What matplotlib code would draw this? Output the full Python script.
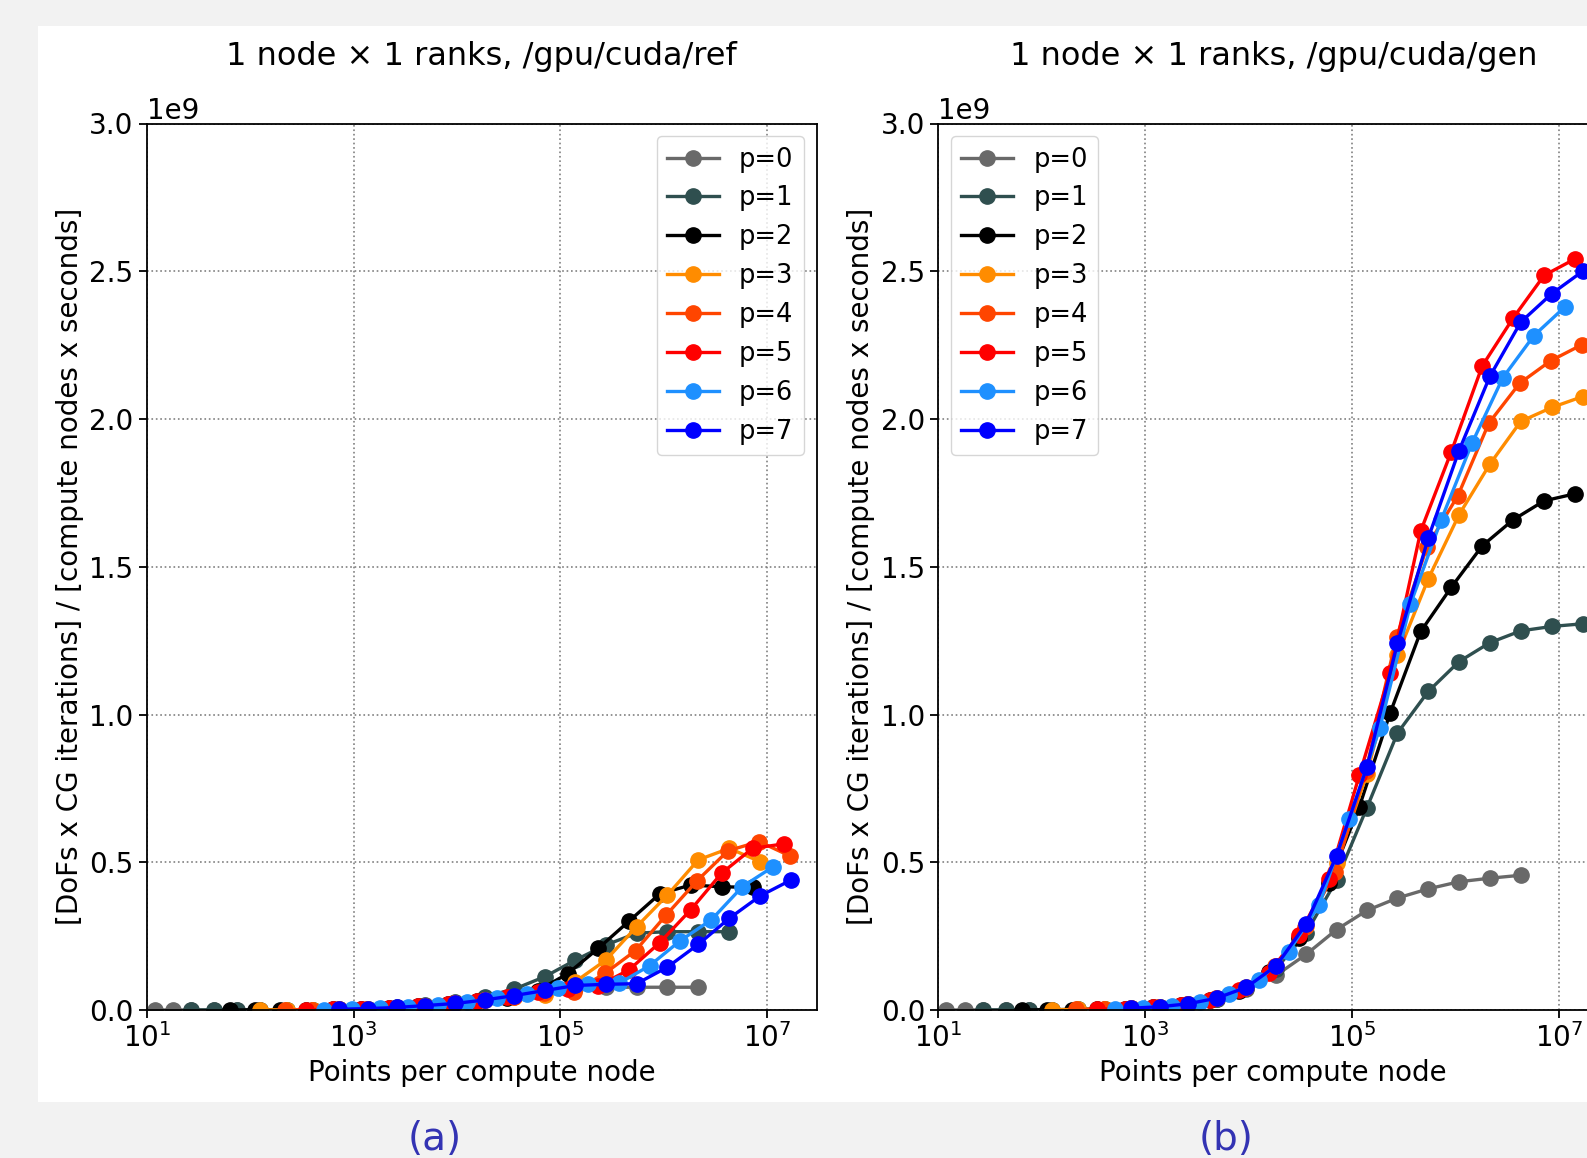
import numpy as np
import matplotlib
matplotlib.use("Agg")
import matplotlib.pyplot as plt
from matplotlib.patches import Rectangle
from matplotlib.ticker import FixedLocator, NullLocator

# ---------------- data ----------------
labels = ["p=0", "p=1", "p=2", "p=3", "p=4", "p=5", "p=6", "p=7"]
colors = ["dimgray", "darkslategray", "black", "darkorange", "orangered", "red", "dodgerblue", "blue"]
titles = ["1 node \u00d7 1 ranks, /gpu/cuda/ref", "1 node \u00d7 1 ranks, /gpu/cuda/gen"]
panel_tags = ["(a)", "(b)"]

# points per compute node for each order p
x_p0 = [12, 18, 27, 45, 75, 125, 225, 405, 729, 1377, 2601, 4913, 9537, 18513, 35937, 70785,
        139425, 274625, 545025, 1081665, 2146689, 4276737]
x_p1 = [27, 45, 75, 125, 225, 405, 729, 1377, 2601, 4913, 9537, 18513, 35937, 70785, 139425,
        274625, 545025, 1081665, 2146689, 4276737, 8520321, 16974593]
x_p2 = [64, 112, 196, 343, 637, 1183, 2197, 4225, 8125, 15625, 30625, 60025, 117649, 232897,
        461041, 912673, 1815937, 3613153, 7189057, 14340865]
x_p3 = [125, 225, 405, 729, 1377, 2601, 4913, 9537, 18513, 35937, 70785, 139425, 274625, 545025,
        1081665, 2146689, 4276737, 8520321, 16974593]
x_p4 = [216, 396, 726, 1331, 2541, 4851, 9261, 18081, 35301, 68921, 136161, 269001, 531441,
        1056321, 2099601, 4173281, 8320641, 16589601]
x_p5 = [343, 637, 1183, 2197, 4225, 8125, 15625, 30625, 60025, 117649, 232897, 461041, 912673,
        1815937, 3613153, 7189057, 14340865]
x_p6 = [512, 960, 1800, 3375, 6525, 12615, 24389, 47937, 94221, 185193, 367137, 727833, 1442897,
        2873025, 5720625, 11390625]
x_p7 = [729, 1377, 2601, 4913, 9537, 18513, 35937, 70785, 139425, 274625, 545025, 1081665,
        2146689, 4276737, 8520321, 16974593]

# throughput in units of 1e9, panel (a): /gpu/cuda/ref
ref_p0 = [0.0000, 0.0001, 0.0001, 0.0002, 0.0003, 0.0005, 0.0009, 0.0015, 0.0027, 0.005, 0.008,
          0.014, 0.022, 0.035, 0.050, 0.065, 0.075, 0.077, 0.077, 0.077, 0.077]
ref_p1 = [0.0001, 0.0002, 0.0003, 0.0005, 0.0009, 0.0016, 0.0028, 0.005, 0.009, 0.016, 0.027,
          0.045, 0.071, 0.113, 0.169, 0.220, 0.260, 0.265, 0.265, 0.265]
ref_p2 = [0.0002, 0.0004, 0.0007, 0.0012, 0.0022, 0.004, 0.007, 0.012, 0.020, 0.030, 0.042,
          0.065, 0.123, 0.209, 0.301, 0.393, 0.423, 0.417, 0.415]
ref_p3 = [0.0004, 0.0008, 0.0014, 0.0025, 0.0045, 0.008, 0.014, 0.022, 0.033, 0.045, 0.051,
          0.096, 0.169, 0.282, 0.389, 0.508, 0.547, 0.502]
ref_p4 = [0.0007, 0.0013, 0.0024, 0.0043, 0.0078, 0.014, 0.022, 0.033, 0.045, 0.056, 0.062,
          0.124, 0.201, 0.322, 0.438, 0.539, 0.570, 0.521]
ref_p5 = [0.0011, 0.002, 0.0037, 0.0067, 0.012, 0.020, 0.031, 0.045, 0.060, 0.072, 0.082,
          0.136, 0.228, 0.339, 0.463, 0.547, 0.562]
ref_p6 = [0.0016, 0.003, 0.0055, 0.0095, 0.017, 0.027, 0.039, 0.055, 0.075, 0.088, 0.090,
          0.150, 0.235, 0.305, 0.417, 0.485]
ref_p7 = [0.0025, 0.0048, 0.0085, 0.015, 0.022, 0.034, 0.049, 0.066, 0.083, 0.087, 0.089,
          0.145, 0.222, 0.310, 0.386, 0.440]

# throughput in units of 1e9, panel (b): /gpu/cuda/gen
gen_p0 = [0.0001, 0.00013, 0.0002, 0.0003, 0.0006, 0.0009, 0.0017, 0.003, 0.0055, 0.010, 0.019,
          0.036, 0.070, 0.118, 0.188, 0.272, 0.337, 0.379, 0.410, 0.434, 0.446, 0.456]
gen_p1 = [0.0002, 0.0003, 0.0006, 0.001, 0.0018, 0.0032, 0.0058, 0.011, 0.020, 0.038, 0.074,
          0.140, 0.260, 0.440, 0.685, 0.937, 1.078, 1.179, 1.243, 1.283, 1.298, 1.307]
gen_p2 = [0.0005, 0.0009, 0.0016, 0.0028, 0.005, 0.0095, 0.018, 0.034, 0.065, 0.128, 0.245,
          0.431, 0.688, 1.004, 1.281, 1.431, 1.571, 1.659, 1.723, 1.747]
gen_p3 = [0.001, 0.0018, 0.0033, 0.006, 0.011, 0.021, 0.040, 0.077, 0.150, 0.285, 0.496, 0.800,
          1.200, 1.459, 1.676, 1.847, 1.992, 2.039, 2.076]
gen_p4 = [0.0018, 0.0032, 0.006, 0.011, 0.020, 0.039, 0.075, 0.148, 0.280, 0.468, 0.810, 1.262,
          1.568, 1.741, 1.986, 2.121, 2.197, 2.251]
gen_p5 = [0.0028, 0.005, 0.0095, 0.018, 0.035, 0.068, 0.126, 0.254, 0.445, 0.795, 1.141, 1.621,
          1.890, 2.180, 2.342, 2.486, 2.542]
gen_p6 = [0.004, 0.008, 0.015, 0.028, 0.054, 0.100, 0.197, 0.355, 0.648, 0.953, 1.374, 1.659,
          1.918, 2.140, 2.282, 2.379]
gen_p7 = [0.006, 0.011, 0.021, 0.040, 0.077, 0.150, 0.291, 0.522, 0.823, 1.241, 1.597, 1.893,
          2.144, 2.328, 2.424, 2.500]

xs = [x_p0, x_p1, x_p2, x_p3, x_p4, x_p5, x_p6, x_p7]
ref = [ref_p0, ref_p1, ref_p2, ref_p3, ref_p4, ref_p5, ref_p6, ref_p7]
gen = [gen_p0, gen_p1, gen_p2, gen_p3, gen_p4, gen_p5, gen_p6, gen_p7]

x_ticks = [1e1, 1e3, 1e5, 1e7]
y_ticks = [0.0, 0.5e9, 1.0e9, 1.5e9, 2.0e9, 2.5e9, 3.0e9]

# ---------------- figure ----------------
W, H = 1587, 1158
fig = plt.figure(figsize=(W / 100, H / 100), dpi=100, facecolor="#f2f2f2")
fig.patches.append(Rectangle((38 / W, (H - 1102) / H), (W - 38) / W + 0.05, (1102 - 26) / H,
                             transform=fig.transFigure, facecolor="white", edgecolor="none",
                             zorder=-10))

ax_w = 670 / W
ax_h = (1010 - 123.5) / H
ax_b = (H - 1010) / H
lefts = [146.7 / W, 938.3 / W]
legend_locs = ["upper right", "upper left"]
tag_x = [435 / W, 1226 / W]

for i, data in enumerate([ref, gen]):
    ax = fig.add_axes([lefts[i], ax_b, ax_w, ax_h])
    ax.set_facecolor("white")
    for k in range(8):
        ax.plot(xs[k][:len(data[k])], np.array(data[k]) * 1e9, marker="o", ms=11, lw=2.4,
                color=colors[k], label=labels[k])
    ax.set_xscale("log")
    ax.set_xlim(10, 3.0e7)
    ax.set_ylim(0, 3.0e9)
    ax.xaxis.set_major_locator(FixedLocator(x_ticks))
    ax.xaxis.set_minor_locator(NullLocator())
    ax.yaxis.set_major_locator(FixedLocator(y_ticks))
    ax.grid(True, linestyle=":", color="gray", linewidth=1.2)
    ax.tick_params(labelsize=20, length=6, width=1.3)
    ax.yaxis.get_offset_text().set_fontsize(20)
    for s in ax.spines.values():
        s.set_linewidth(1.3)
    ax.set_xlabel("Points per compute node", fontsize=20)
    ax.set_ylabel("[DoFs x CG iterations] / [compute nodes x seconds]", fontsize=20)
    ax.set_title(titles[i], fontsize=23, pad=42)
    ax.legend(loc=legend_locs[i], fontsize=18.5)
    fig.text(tag_x[i], (H - 1139) / H, panel_tags[i], fontsize=28, color="#3333b3",
             ha="center", va="center")

fig.savefig("out.png", dpi=100, facecolor=fig.get_facecolor())
